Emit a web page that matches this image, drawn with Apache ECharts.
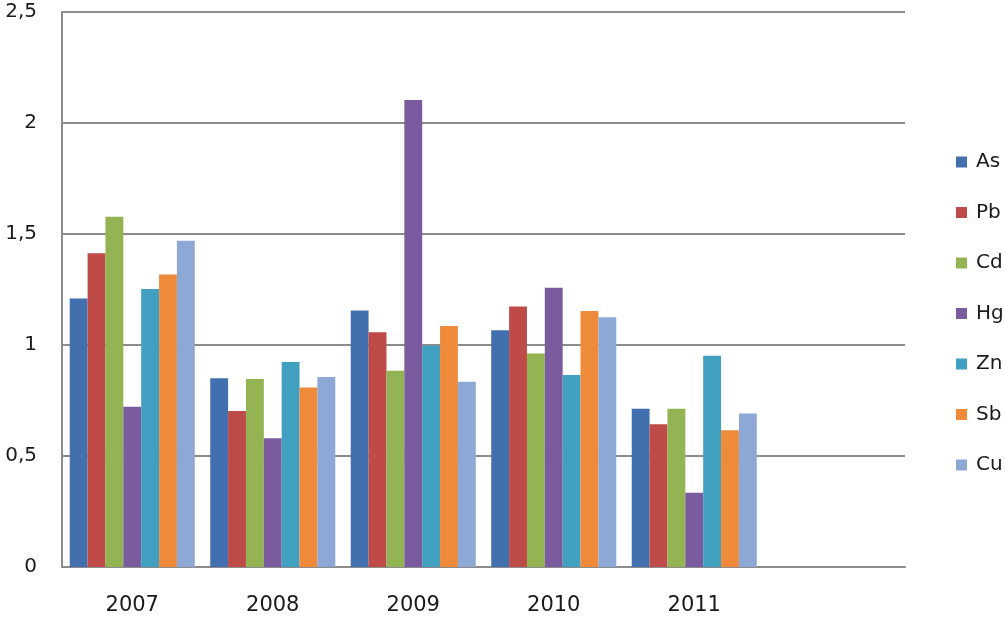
<!DOCTYPE html>
<html>
<head>
<meta charset="utf-8">
<script src="https://cdn.jsdelivr.net/npm/echarts@6/dist/echarts.min.js"></script>
<style>html,body{margin:0;padding:0;background:#fff;}#c{width:1005px;height:619px;}</style>
</head>
<body>
<div id="c"></div>
<script>
const categories = ['2007', '2008', '2009', '2010', '2011', ''];
const seriesNames = ['As', 'Pb', 'Cd', 'Hg', 'Zn', 'Sb', 'Cu'];
const As = [1.21, 0.85, 1.155, 1.067, 0.713];
const Pb = [1.413, 0.703, 1.057, 1.173, 0.643];
const Cd = [1.578, 0.847, 0.884, 0.962, 0.713];
const Hg = [0.722, 0.58, 2.104, 1.258, 0.335];
const Zn = [1.252, 0.923, 0.997, 0.865, 0.952];
const Sb = [1.318, 0.808, 1.086, 1.153, 0.616];
const Cu = [1.47, 0.856, 0.835, 1.125, 0.692];
const yTicks = [0, 0.5, 1, 1.5, 2, 2.5];

const values = [As, Pb, Cd, Hg, Zn, Sb, Cu];
const colors = ['#4270AE', '#BE4B48', '#94B454', '#7A5C9E', '#41A0C0', '#EE8A3A', '#8EA8D6'];
const font = '"DejaVu Sans", "Open Sans", sans-serif';

const chart = echarts.init(document.getElementById('c'), null, {renderer: 'canvas'});
chart.setOption({
  animation: false,
  backgroundColor: '#fff',
  color: colors,
  grid: {left: 62, right: 100, top: 12, bottom: 52, containLabel: false},
  legend: {
    orient: 'vertical',
    left: 951,
    top: 147,
    itemWidth: 11,
    itemHeight: 11,
    itemGap: 30.5,
    icon: 'rect',
    textStyle: {fontFamily: font, fontSize: 20, color: '#1a1a1a', padding: [0, 0, 0, 4]},
    data: seriesNames
  },
  xAxis: {
    type: 'category',
    data: categories,
    axisLine: {show: true, lineStyle: {color: '#8c8c8c', width: 2}},
    axisTick: {show: false},
    axisLabel: {fontFamily: font, fontSize: 21, color: '#1a1a1a', margin: 28}
  },
  yAxis: {
    type: 'value',
    min: 0,
    max: 2.5,
    interval: 0.5,
    axisLine: {show: true, lineStyle: {color: '#8c8c8c', width: 2}},
    axisTick: {show: false},
    splitLine: {show: true, lineStyle: {color: '#8c8c8c', width: 2}},
    axisLabel: {
      fontFamily: font, fontSize: 20, color: '#1a1a1a', margin: 25,
      formatter: v => yTicks.includes(v) ? String(v).replace('.', ',') : ''
    }
  },
  series: seriesNames.map((n, i) => ({
    name: n,
    type: 'bar',
    data: values[i],
    barGap: '0%',
    barCategoryGap: '11%',
    itemStyle: {color: colors[i]}
  }))
});
</script>
</body>
</html>
